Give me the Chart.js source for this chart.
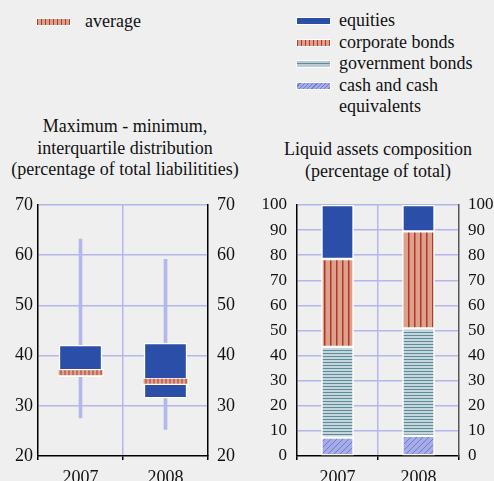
<!DOCTYPE html>
<html>
<head>
<meta charset="utf-8">
<script src="https://cdn.jsdelivr.net/npm/chart.js@4"></script>
<style>
  body { margin: 0; background: #efefef; width: 494px; height: 481px; overflow: hidden; position: relative;
         font-family: 'Liberation Serif', serif; font-size: 18px; color: #111; }
  .box { position: absolute; }
  .txt { position: absolute; line-height: 21px; white-space: nowrap; }
  .title { position: absolute; line-height: 21.5px; text-align: center; white-space: nowrap; }
  .sw { position: absolute; width: 33px; height: 6px; outline: 1px solid #fff; }
</style>
</head>
<body>
<!-- legends -->
<div class="sw" style="left:37px;top:19px;background:repeating-linear-gradient(90deg,#b5352a 0 1px,#dca18b 1px 4px);"></div>
<div class="txt" style="left:85px;top:11px;">average</div>

<div class="sw" style="left:297px;top:18px;background:#2b4ea8;"></div>
<div class="txt" style="left:339px;top:10px;">equities</div>
<div class="sw" style="left:297px;top:40px;background:repeating-linear-gradient(90deg,#b5352a 0 1px,#dca18b 1px 4px);"></div>
<div class="txt" style="left:339px;top:32px;">corporate bonds</div>
<div class="sw" style="left:297px;top:61px;background:linear-gradient(#b9ccd4 0 2px,#5d8d99 2px 3px,#b9ccd4 3px);"></div>
<div class="txt" style="left:339px;top:53px;">government bonds</div>
<div class="sw" style="left:297px;top:83px;background:repeating-linear-gradient(135deg,#a6ace6 0 2px,#6f7bd4 2px 3px);"></div>
<div class="txt" style="left:339px;top:75px;">cash and cash</div>
<div class="txt" style="left:339px;top:96px;">equivalents</div>

<div class="title" style="left:0px;width:250px;top:116px;">Maximum - minimum,<br>interquartile distribution<br>(percentage of total liabilitities)</div>
<div class="title" style="left:253px;width:250px;top:139px;">Liquid assets composition<br>(percentage of total)</div>

<div class="box" style="left:0px;top:190px;width:250px;height:291px;"><canvas id="rangeChart"></canvas></div>
<div class="box" style="left:250px;top:190px;width:244px;height:291px;"><canvas id="compChart"></canvas></div>

<script>
const years = ['2007', '2008'];

// left panel: max-min range, interquartile box, average
const rangeMin = [27.6, 25.3];
const rangeMax = [63.2, 59.2];
const quartile1 = [35.8, 31.5];
const quartile3 = [42.1, 42.5];
const average = [36.6, 34.9];

// right panel: liquid assets composition (% of total)
const cashEquiv = [7.3, 8.0];
const govBonds = [36.2, 42.8];
const corpBonds = [35.0, 38.7];
const equities = [21.5, 10.5];

const leftTicks = [20, 30, 40, 50, 60, 70];
const rightTicks = [0, 10, 20, 30, 40, 50, 60, 70, 80, 90, 100];

const LAV = '#b3b7e9';
const BLUE = '#2b4ea8';

Chart.defaults.font.family = "'Liberation Serif', serif";
Chart.defaults.font.size = 18;
Chart.defaults.color = '#111';

// patterns
function makePattern(w, h, draw) {
    const c = document.createElement('canvas');
    c.width = w; c.height = h;
    draw(c.getContext('2d'), w, h);
    return c.getContext('2d').createPattern(c, 'repeat');
}
const corpPattern = makePattern(6, 1, (g, w, h) => {
    g.fillStyle = '#dca18b'; g.fillRect(0, 0, w, h);
    g.fillStyle = '#b5352a'; g.fillRect(2, 0, 1.5, h);
});
const govPattern = makePattern(1, 3, (g, w, h) => {
    g.fillStyle = '#c4d6dc'; g.fillRect(0, 0, w, h);
    g.fillStyle = '#5d8d99'; g.fillRect(0, 1, w, 1);
});
const cashPattern = makePattern(6, 6, (g, w, h) => {
    g.fillStyle = '#a6ace6'; g.fillRect(0, 0, w, h);
    g.strokeStyle = '#6f7bd4'; g.lineWidth = 1;
    g.beginPath();
    g.moveTo(0, h); g.lineTo(w, 0);
    g.moveTo(-1, 1); g.lineTo(1, -1);
    g.moveTo(w - 1, h + 1); g.lineTo(w + 1, h - 1);
    g.stroke();
});

// average marker drawn as point image
const avgMark = document.createElement('canvas');
avgMark.width = 46; avgMark.height = 7;
(function () {
    const g = avgMark.getContext('2d');
    g.fillStyle = '#fff'; g.fillRect(0, 0, 46, 7);
    g.fillStyle = '#dca18b'; g.fillRect(1, 1, 44, 5);
    g.fillStyle = '#b5352a';
    for (let x = 3; x < 45; x += 4) g.fillRect(x, 1, 1, 5);
})();

function yAxis(pos, min, max, ticks, width, pad, gridOn, borderColor, fontSize) {
    return {
        type: 'linear', position: pos, min: min, max: max, display: true,
        afterBuildTicks: s => { s.ticks = ticks.map(v => ({ value: v })); },
        afterFit: s => { s.width = width; s.paddingTop = 0; s.paddingBottom = 0; },
        ticks: { padding: pad, color: '#111', font: { size: fontSize } },
        grid: {
            display: gridOn, drawTicks: false, lineWidth: 1.5,
            color: c => (c.tick && c.tick.value === min) ? 'rgba(0,0,0,0)' : LAV
        },
        border: { display: true, color: borderColor, width: 1.5 }
    };
}

const xAxis = {
    type: 'category',
    afterFit: s => { s.height = 25; s.paddingLeft = 0; s.paddingRight = 0; },
    ticks: { padding: 7, color: '#111' },
    grid: {
        offset: true, lineWidth: 1.5, tickLength: 4, tickColor: '#000', tickWidth: 1.5,
        color: c => c.index === 1 ? LAV : 'rgba(0,0,0,0)'
    },
    border: { color: '#000', width: 1.5 }
};

new Chart(document.getElementById('rangeChart'), {
    data: {
        labels: years,
        datasets: [
            {
                type: 'line', label: 'average', data: average, showLine: false,
                pointStyle: avgMark, pointRadius: 10, order: 0
            },
            {
                type: 'bar', label: 'interquartile',
                data: years.map((y, i) => [quartile1[i], quartile3[i]]),
                backgroundColor: BLUE, borderColor: '#fff', borderWidth: 1.5, borderSkipped: false,
                barThickness: 43, grouped: false, order: 1
            },
            {
                type: 'bar', label: 'max-min',
                data: years.map((y, i) => [rangeMin[i], rangeMax[i]]),
                backgroundColor: LAV, borderWidth: 0,
                barThickness: 3, grouped: false, order: 2
            }
        ]
    },
    options: {
        responsive: true, maintainAspectRatio: false, animation: false,
        layout: { padding: { top: 15, left: 0, right: 0, bottom: 0 } },
        plugins: { legend: { display: false }, tooltip: { enabled: false } },
        scales: {
            x: xAxis,
            y: yAxis('left', 20, 70, leftTicks, 38, 5, true, '#000', 18),
            y2: yAxis('right', 20, 70, leftTicks, 42, 9, false, '#000', 18)
        }
    }
});

new Chart(document.getElementById('compChart'), {
    type: 'bar',
    data: {
        labels: years,
        datasets: [
            { label: 'cash and cash equivalents', data: cashEquiv, backgroundColor: cashPattern },
            { label: 'government bonds', data: govBonds, backgroundColor: govPattern },
            { label: 'corporate bonds', data: corpBonds, backgroundColor: corpPattern },
            { label: 'equities', data: equities, backgroundColor: BLUE }
        ].map(d => Object.assign(d, { borderColor: '#fff', borderWidth: 1.5, borderSkipped: false, barThickness: 32 }))
    },
    options: {
        responsive: true, maintainAspectRatio: false, animation: false,
        layout: { padding: { top: 15, left: 0, right: 0, bottom: 0 } },
        plugins: { legend: { display: false }, tooltip: { enabled: false } },
        scales: {
            x: Object.assign({}, xAxis, { stacked: true }),
            y: Object.assign(yAxis('left', 0, 100, rightTicks, 47, 10, true, '#000', 17), { stacked: true }),
            y2: yAxis('right', 0, 100, rightTicks, 35, 9, false, '#555', 17)
        }
    }
});
</script>
</body>
</html>
